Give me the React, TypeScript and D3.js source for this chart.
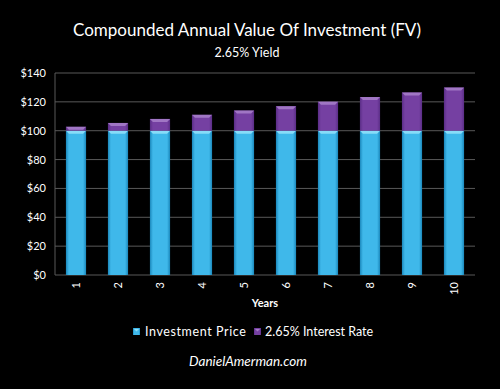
import React from 'react';
import { scaleBand, scaleLinear } from 'd3';

const width = 500;
const height = 389;
const margins = { top: 73, bottom: 114, left: 55, right: 25 };

const years = ['1', '2', '3', '4', '5', '6', '7', '8', '9', '10'];
const investmentPrice = [100, 100, 100, 100, 100, 100, 100, 100, 100, 100];
const interestRate = [2.7, 5.4, 8.2, 11.0, 14.0, 17.0, 20.1, 23.3, 26.5, 29.9];
const yTicks = [0, 20, 40, 60, 80, 100, 120, 140];

const font = 'Lato, "Open Sans", sans-serif';

const xScale = scaleBand()
  .domain(years)
  .range([margins.left, width - margins.right])
  .paddingInner(0.52)
  .paddingOuter(0.26);

const yScale = scaleLinear()
  .domain([0, 140])
  .range([height - margins.bottom, margins.top]);

const Segment = ({ x, y, w, h, fill, hi }: any) => (
  <g>
    <rect x={x} y={y} width={w} height={h} fill={fill} />
    <polygon
      points={`${x},${y} ${x + w},${y} ${x + w - 3},${y + 3} ${x + 3},${y + 3}`}
      fill={hi}
      opacity={h > 3 ? 0.9 : 0.5}
    />
  </g>
);

export default function App() {
  const bw = xScale.bandwidth();
  const y0 = yScale(0);
  return (
    <div style={{ position: 'absolute', left: 0, top: 0 }}>
      <svg width={width} height={height} style={{ display: 'block', background: '#000' }}>
        <defs>
          <linearGradient id="cyan" x1="0" x2="1" y1="0" y2="0">
            <stop offset="0" stopColor="#1a87bb" />
            <stop offset="0.15" stopColor="#3fb8ea" />
            <stop offset="0.85" stopColor="#3fb8ea" />
            <stop offset="1" stopColor="#1a87bb" />
          </linearGradient>
          <linearGradient id="purple" x1="0" x2="1" y1="0" y2="0">
            <stop offset="0" stopColor="#5a2d86" />
            <stop offset="0.15" stopColor="#7540a2" />
            <stop offset="0.85" stopColor="#7540a2" />
            <stop offset="1" stopColor="#5a2d86" />
          </linearGradient>
        </defs>
        <rect width={width} height={height} fill="#000" />

        <text x={247} y={36} textAnchor="middle" fill="#fff" fontFamily={font} fontSize={17}>
          Compounded Annual Value Of Investment (FV)
        </text>
        <text x={247} y={57} textAnchor="middle" fill="#fff" fontFamily={font} fontSize={12.5}>
          2.65% Yield
        </text>

        {yTicks.map((t) => (
          <g key={t}>
            <line
              x1={margins.left}
              x2={width - margins.right}
              y1={yScale(t)}
              y2={yScale(t)}
              stroke="#595959"
              strokeWidth={1}
            />
            <text
              x={46}
              y={yScale(t) + 4}
              textAnchor="end"
              fill="#fff"
              fontFamily={font}
              fontSize={11}
            >
              ${t}
            </text>
          </g>
        ))}
        <line x1={margins.left} x2={margins.left} y1={margins.top} y2={y0} stroke="#595959" />

        {years.map((d, i) => {
          const x = xScale(d) as number;
          const base = investmentPrice[i];
          const top = base + interestRate[i];
          return (
            <g key={d}>
              <Segment x={x} y={yScale(base)} w={bw} h={y0 - yScale(base)} fill="url(#cyan)" hi="#8fe0fa" />
              <Segment
                x={x}
                y={yScale(top)}
                w={bw}
                h={yScale(base) - yScale(top)}
                fill="url(#purple)"
                hi="#a57cc8"
              />
              <text
                transform={`translate(${x + bw / 2 + 4},${y0 + 7}) rotate(-90)`}
                textAnchor="end"
                fill="#fff"
                fontFamily={font}
                fontSize={11}
              >
                {d}
              </text>
            </g>
          );
        })}

        <text x={265} y={307} textAnchor="middle" fill="#fff" fontFamily={font} fontSize={11} fontWeight="bold">
          Years
        </text>

        <rect x={133} y={328} width={7} height={7} fill="url(#cyan)" />
        <polygon points="134,329 139,329 136.5,331.5" fill="#8fe0fa" />
        <text x={145} y={336} fill="#fff" fontFamily={font} fontSize={12.5} letterSpacing={0.6}>
          Investment Price
        </text>
        <rect x={254} y={328} width={7} height={7} fill="url(#purple)" />
        <polygon points="255,329 260,329 257.5,331.5" fill="#a57cc8" />
        <text x={265} y={336} fill="#fff" fontFamily={font} fontSize={12.5}>
          2.65% Interest Rate
        </text>

        <text
          x={248}
          y={366}
          textAnchor="middle"
          fill="#fff"
          fontFamily={font}
          fontSize={13.5}
          fontStyle="italic"
        >
          DanielAmerman.com
        </text>
      </svg>
    </div>
  );
}
